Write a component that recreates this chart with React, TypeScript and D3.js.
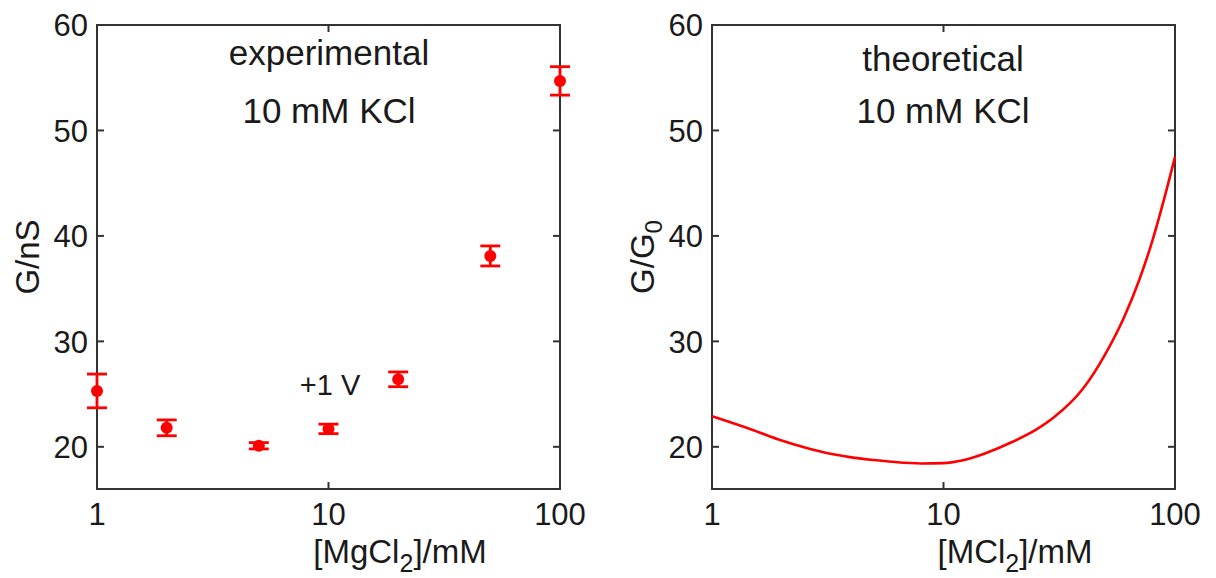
import React from 'react';
import * as d3 from 'd3';

// experimental: G (nS) vs [MgCl2] (mM), +1 V, 10 mM KCl
const expConc = [1, 2, 5, 10, 20, 50, 100];
const expG = [25.3, 21.8, 20.1, 21.7, 26.4, 38.1, 54.7];
const expErr = [1.6, 0.75, 0.3, 0.45, 0.7, 0.95, 1.35];

// theoretical: G/G0 vs [MCl2] (mM)
const theoConc = [1, 1.5, 2, 2.5, 3, 4, 5, 6, 8, 10, 12, 15, 20, 25, 30, 40, 50, 60, 70, 80, 90, 100];
const theoG = [22.9, 21.6, 20.6, 19.95, 19.5, 19.0, 18.75, 18.58, 18.42, 18.45, 18.7, 19.35, 20.5, 21.6, 22.8, 25.5, 28.8, 32.2, 35.8, 39.6, 43.6, 47.5];

const yTicks = [20, 30, 40, 50, 60];
const xTicks = [1, 10, 100];

const FONT = '"Liberation Sans", Arial, Helvetica, sans-serif';
const RED = '#ff0000';
const AXIS = '#333333';
const TXT = '#1a1a1a';

const top = 25;
const bottom = 489;
const panelW = 463;

const Panel = ({ left, children, title, yLabel, xLabel }) => {
  const x = d3.scaleLog().domain([1, 100]).range([left, left + panelW]);
  const y = d3.scaleLinear().domain([16, 60]).range([bottom, top]);
  const right = left + panelW;
  const tick = 7;

  return (
    <g>
      {/* frame */}
      <rect x={left} y={top} width={panelW} height={bottom - top} fill="none" stroke={AXIS} strokeWidth={2} />

      {/* y ticks both sides */}
      {yTicks.map(t => (
        <g key={t}>
          <line x1={left} x2={left + tick} y1={y(t)} y2={y(t)} stroke={AXIS} strokeWidth={2} />
          <line x1={right} x2={right - tick} y1={y(t)} y2={y(t)} stroke={AXIS} strokeWidth={2} />
          <text x={left - 9} y={y(t)} dy="0.36em" textAnchor="end" fontSize={31} fontFamily={FONT} fill={TXT}>{t}</text>
        </g>
      ))}

      {/* x ticks top and bottom */}
      {xTicks.map(t => (
        <g key={t}>
          <line x1={x(t)} x2={x(t)} y1={bottom} y2={bottom - tick} stroke={AXIS} strokeWidth={2} />
          <line x1={x(t)} x2={x(t)} y1={top} y2={top + tick} stroke={AXIS} strokeWidth={2} />
          <text x={x(t)} y={525} textAnchor="middle" fontSize={31} fontFamily={FONT} fill={TXT}>{t}</text>
        </g>
      ))}

      {/* axis titles */}
      <text x={left + 303} y={563} textAnchor="middle" fontSize={33} fontFamily={FONT} fill={TXT}>
        {xLabel}
      </text>
      <text transform={`translate(${left - 58},${(top + bottom) / 2}) rotate(-90)`} textAnchor="middle" fontSize={33} fontFamily={FONT} fill={TXT}>
        {yLabel}
      </text>

      {title}
      {children({ x, y })}
    </g>
  );
};

export default function App() {
  const W = 1216;
  const H = 578;

  return (
    <div style={{ position: 'absolute', left: 0, top: 0 }}>
      <svg width={W} height={H} viewBox={`0 0 ${W} ${H}`} style={{ display: 'block', background: '#fff' }}>
        <Panel
          left={97}
          xLabel={<>[MgCl<tspan dy={9} fontSize={25}>2</tspan><tspan dy={-9}>]/mM</tspan></>}
          yLabel="G/nS"
          title={
            <g fontFamily={FONT} fill={TXT} textAnchor="middle" fontSize={35}>
              <text x={329} y={65}>experimental</text>
              <text x={329} y={123}>10 mM KCl</text>
            </g>
          }
        >
          {({ x, y }) => (
            <g>
              <text x={330} y={395} textAnchor="middle" fontSize={29} fontFamily={FONT} fill={TXT}>+1 V</text>
              {expConc.map((c, i) => {
                const cx = x(c);
                const yt = y(expG[i] + expErr[i]);
                const yb = y(expG[i] - expErr[i]);
                return (
                  <g key={c} stroke={RED} strokeWidth={2.8} fill={RED}>
                    <line x1={cx} x2={cx} y1={yt} y2={yb} />
                    <line x1={cx - 10} x2={cx + 10} y1={yt} y2={yt} />
                    <line x1={cx - 10} x2={cx + 10} y1={yb} y2={yb} />
                    <circle cx={cx} cy={y(expG[i])} r={6} stroke="none" />
                  </g>
                );
              })}
            </g>
          )}
        </Panel>

        <Panel
          left={712}
          xLabel={<>[MCl<tspan dy={9} fontSize={25}>2</tspan><tspan dy={-9}>]/mM</tspan></>}
          yLabel={<>G/G<tspan dy={8} fontSize={24}>0</tspan></>}
          title={
            <g fontFamily={FONT} fill={TXT} textAnchor="middle" fontSize={35}>
              <text x={943} y={71}>theoretical</text>
              <text x={943} y={123}>10 mM KCl</text>
            </g>
          }
        >
          {({ x, y }) => {
            const line = d3.line<number>()
              .x((_, i) => x(theoConc[i]))
              .y(d => y(d))
              .curve(d3.curveMonotoneX);
            return <path d={line(theoG) || ''} fill="none" stroke={RED} strokeWidth={2.6} />;
          }}
        </Panel>
      </svg>
    </div>
  );
}
